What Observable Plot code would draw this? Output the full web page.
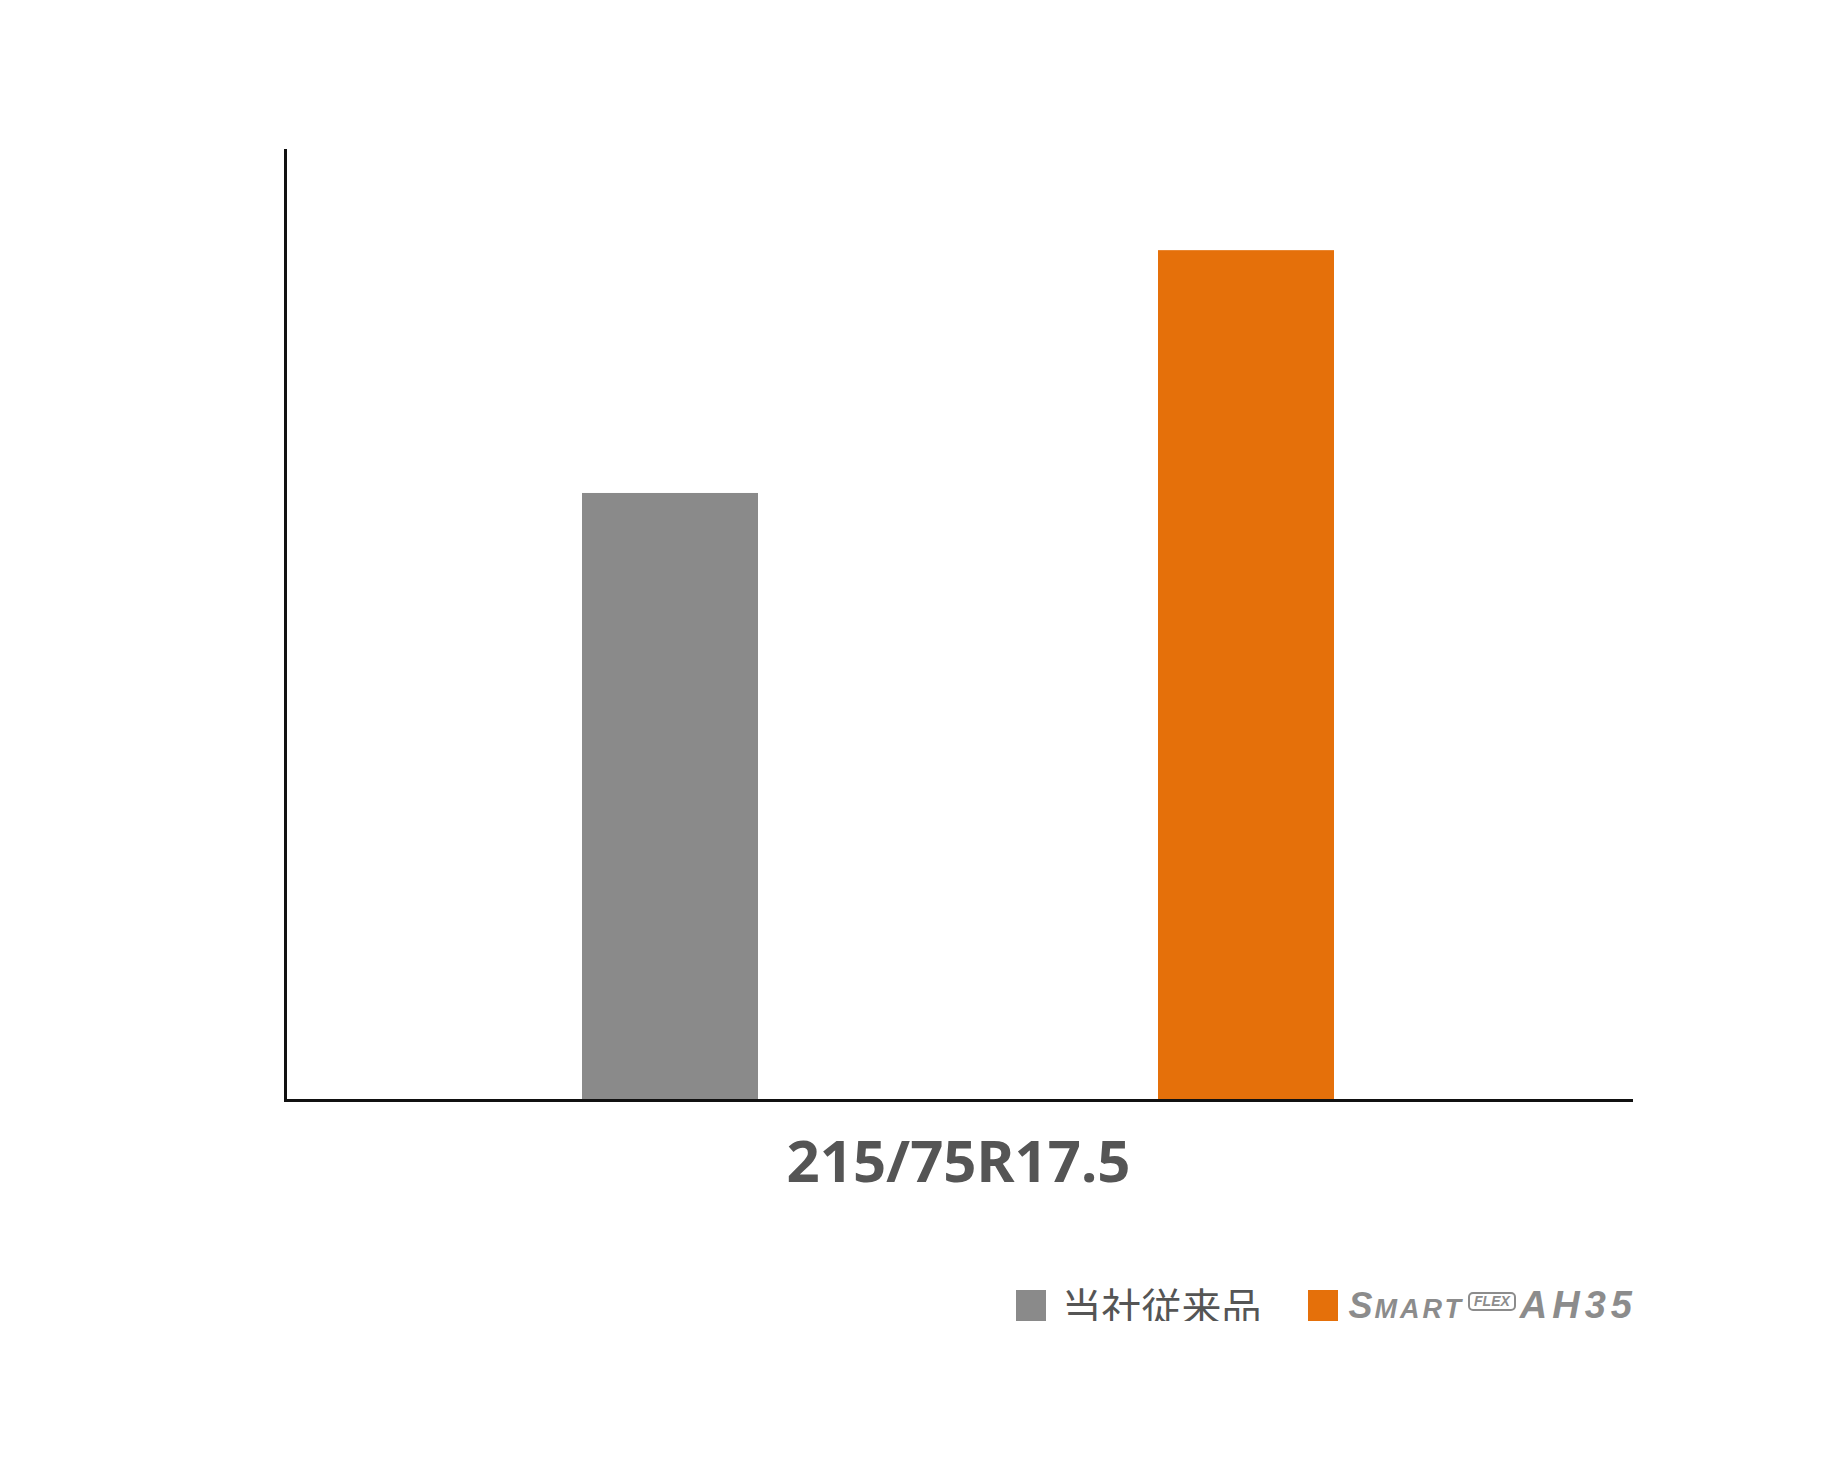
<!DOCTYPE html>
<html>
<head>
<meta charset="utf-8">
<script src="https://cdn.jsdelivr.net/npm/d3@7"></script>
<script src="https://cdn.jsdelivr.net/npm/@observablehq/plot@0.6"></script>
<style>
  html, body { margin: 0; padding: 0; background: #fff; }
  body { width: 1840px; font-family: "Noto Sans", "Noto Sans CJK JP", sans-serif; }
  #legend {
    display: flex; align-items: center; justify-content: flex-end;
    padding-right: 203px; margin-top: 59px; height: 32px;
  }
  .sw { width: 30px; height: 31px; display: inline-block; }
  .lbl-jp { font-family: "Noto Sans CJK JP", sans-serif; font-size: 40px; color: #555; margin-left: 16px; line-height: 1; }
  .logo { margin-left: 11px; color: #8c8c8c; font-family: "Liberation Sans", Arial, sans-serif; font-style: italic; font-weight: bold; display: flex; align-items: baseline; white-space: nowrap; }
  .logo .s1 { font-size: 36px; letter-spacing: 2px; }
  .logo .s2 { font-size: 27px; letter-spacing: 3px; }
  .logo .flex { font-size: 14px; border: 2px solid #8c8c8c; border-radius: 5px; padding: 0 4px; margin: 0 4px 0 4px; position: relative; top: -12px; line-height: 1.1; }
  .logo .ah { font-size: 38px; font-weight: 900; letter-spacing: 5px; }
</style>
</head>
<body>
<div id="chart"></div>
<div id="legend"></div>
<script>
const categories = ["215/75R17.5"];
const series = ["当社従来品", "SMART FLEX AH35"];
const values = [100, 140];
const colors = ["#8a8a8a", "#e5700a"];

const data = series.map((s, i) => ({category: categories[0], series: s, value: values[i]}));

const chart = Plot.plot({
  width: 1840,
  height: 1230,
  marginLeft: 285,
  marginRight: 209,
  marginTop: 150,
  marginBottom: 130,
  style: {fontFamily: "Noto Sans, sans-serif", background: "#fff"},
  fx: {domain: categories, padding: 0},
  x: {domain: series, paddingInner: 0.695, paddingOuter: 0.514, axis: null},
  y: {domain: [0, 156.5], axis: null},
  color: {domain: series, range: colors},
  marks: [
    Plot.barY(data, {fx: "category", x: "series", y: "value", fill: "series"}),
    Plot.frame({anchor: "left", stroke: "#111", strokeWidth: 3}),
    Plot.frame({anchor: "bottom", stroke: "#111", strokeWidth: 3}),
    Plot.axisFx({anchor: "bottom", tickSize: 0, tickPadding: 40, fontSize: 58, fontWeight: "bold", label: null, color: "#555"})
  ]
});
document.getElementById("chart").append(chart);

const legend = document.getElementById("legend");
legend.innerHTML = `
  <span class="sw" style="background:${colors[0]}"></span>
  <span class="lbl-jp">${series[0]}</span>
  <span class="sw" style="background:${colors[1]}; margin-left:46px"></span>
  <span class="logo"><span class="s1">S</span><span class="s2">MART</span><span class="flex">FLEX</span><span class="ah">AH35</span></span>
`;
</script>
</body>
</html>
